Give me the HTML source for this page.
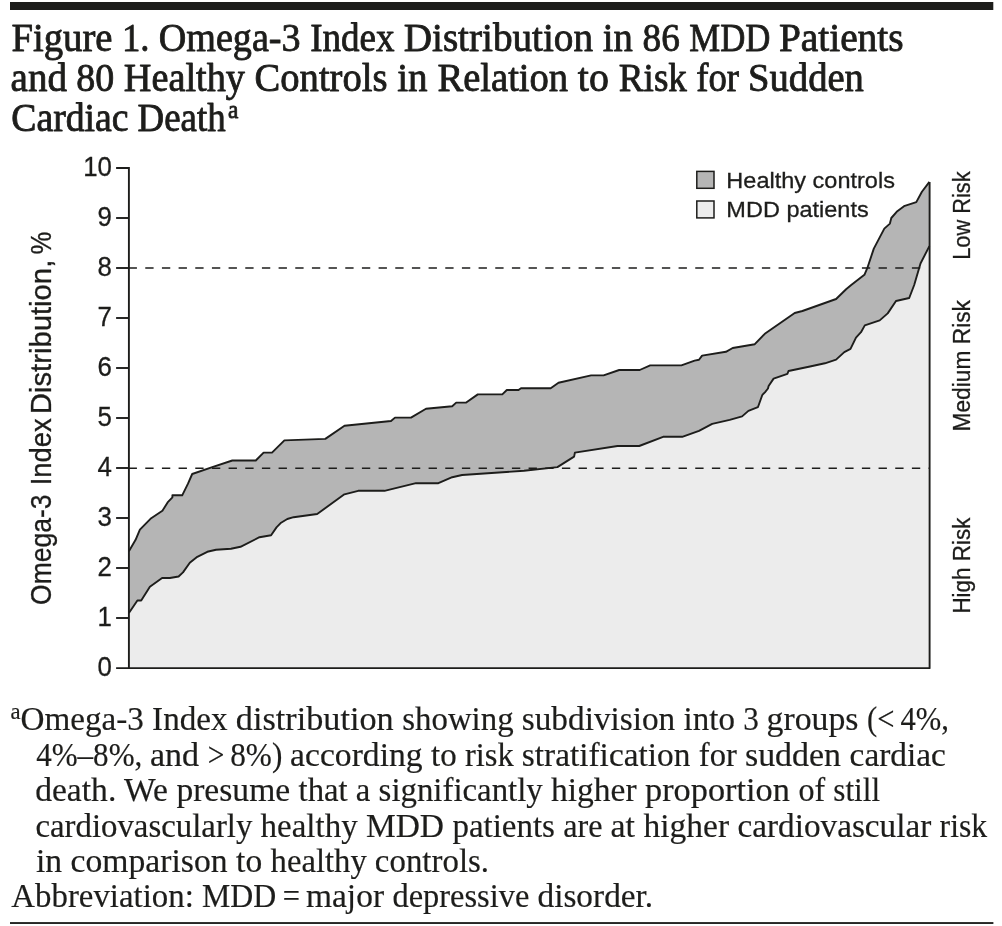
<!DOCTYPE html>
<html lang="en"><head><meta charset="utf-8"><title>Figure 1. Omega-3 Index Distribution</title>
<style>
html,body{margin:0;padding:0;background:#fff}
body{width:1002px;height:926px;overflow:hidden}
svg{display:block}
.ti{font-family:"Liberation Serif","DejaVu Serif",serif;font-weight:normal;fill:#1d1d1b;stroke:#1d1d1b;stroke-width:0.85px;stroke-linejoin:round}
.fn{font-family:"Liberation Serif","DejaVu Serif",serif;fill:#1d1d1b;stroke:#1d1d1b;stroke-width:0.18px}
.sa{font-family:"Liberation Sans","DejaVu Sans",sans-serif;fill:#1d1d1b;stroke:#1d1d1b;stroke-width:0.3px}
</style></head><body>
<svg width="1002" height="926" viewBox="0 0 1002 926">
<rect x="0" y="0" width="1002" height="926" fill="#fff"/>
<rect x="10" y="2" width="983.3" height="8" fill="#1d1d1b"/>
<text class="ti" font-size="40" y="51.3"><tspan x="11.43" textLength="110.76" lengthAdjust="spacingAndGlyphs">Figure </tspan><tspan x="121.94" textLength="36.84" lengthAdjust="spacingAndGlyphs">1. </tspan><tspan x="158.75" textLength="151.40" lengthAdjust="spacingAndGlyphs">Omega-3 </tspan><tspan x="310.17" textLength="93.60" lengthAdjust="spacingAndGlyphs">Index </tspan><tspan x="403.72" textLength="199.08" lengthAdjust="spacingAndGlyphs">Distribution </tspan><tspan x="602.80" textLength="39.73" lengthAdjust="spacingAndGlyphs">in </tspan><tspan x="642.57" textLength="46.60" lengthAdjust="spacingAndGlyphs">86 </tspan><tspan x="689.23" textLength="89.80" lengthAdjust="spacingAndGlyphs">MDD </tspan><tspan x="778.92" textLength="124.64" lengthAdjust="spacingAndGlyphs">Patients</tspan></text>
<text class="ti" font-size="40" y="91.2"><tspan x="10.62" textLength="66.10" lengthAdjust="spacingAndGlyphs">and </tspan><tspan x="76.35" textLength="47.40" lengthAdjust="spacingAndGlyphs">80 </tspan><tspan x="123.74" textLength="130.80" lengthAdjust="spacingAndGlyphs">Healthy </tspan><tspan x="254.53" textLength="142.67" lengthAdjust="spacingAndGlyphs">Controls </tspan><tspan x="397.20" textLength="40.22" lengthAdjust="spacingAndGlyphs">in </tspan><tspan x="437.44" textLength="140.36" lengthAdjust="spacingAndGlyphs">Relation </tspan><tspan x="577.80" textLength="41.00" lengthAdjust="spacingAndGlyphs">to </tspan><tspan x="618.87" textLength="77.30" lengthAdjust="spacingAndGlyphs">Risk </tspan><tspan x="696.18" textLength="51.98" lengthAdjust="spacingAndGlyphs">for </tspan><tspan x="748.07" textLength="115.83" lengthAdjust="spacingAndGlyphs">Sudden</tspan></text>
<text class="ti" font-size="40" y="130.7"><tspan x="11.26" textLength="126.70" lengthAdjust="spacingAndGlyphs">Cardiac </tspan><tspan x="137.58" textLength="88.02" lengthAdjust="spacingAndGlyphs">Death</tspan></text>
<text class="ti" font-size="26" x="228.00" y="117.6" textLength="10.39" lengthAdjust="spacingAndGlyphs">a</text>
<polygon fill="#b5b5b5" points="128.9,551.2 135.6,539.8 139.9,529.6 151.2,518.2 162.4,510.8 167.6,502.4 172.4,497.4 172.4,495.3 182.2,495.3 188.0,483.7 192.2,474.0 212.3,467.2 232.3,460.5 255.8,460.5 263.6,452.6 272.0,452.6 284.4,440.4 325.3,438.9 344.5,425.8 391.0,421.0 395.0,417.6 411.0,417.6 426.0,408.8 452.2,406.2 456.2,402.6 466.2,402.5 477.8,394.4 502.3,394.4 506.8,390.0 518.5,390.0 521.0,388.2 550.7,388.2 558.5,382.8 591.1,375.4 603.6,375.4 619.2,370.0 639.7,370.0 650.2,365.4 681.4,365.4 694.6,360.6 699.0,359.8 702.1,355.6 725.9,351.8 732.7,348.0 754.8,344.2 764.8,333.8 794.7,313.0 802.4,311.0 836.1,299.0 846.1,289.2 851.2,285.0 864.4,274.8 867.6,267.3 873.8,248.6 884.3,228.6 889.9,223.6 891.3,218.0 897.3,211.2 904.0,206.2 916.3,202.1 921.9,191.8 929.4,181.9 929.6,668.1 128.9,668.1"/>
<polygon fill="#ececec" points="128.9,613.0 137.4,600.5 141.2,600.5 149.9,586.8 162.1,578.0 169.9,578.0 178.6,576.5 183.0,572.4 189.8,562.7 197.3,556.8 207.3,551.8 216.0,549.8 231.0,548.8 240.5,546.8 259.5,537.2 271.1,535.2 276.5,527.4 281.1,522.7 287.3,519.0 293.6,517.2 317.2,514.0 344.4,494.3 358.2,490.8 384.5,490.8 416.0,483.2 438.4,483.2 452.2,477.2 462.1,475.0 524.0,470.8 557.4,467.1 574.1,456.6 574.9,452.6 617.5,446.0 639.2,446.0 663.1,436.8 682.2,436.8 699.0,430.8 712.2,423.9 729.7,419.9 742.1,416.4 748.4,410.9 757.9,407.2 762.4,394.8 764.9,392.3 768.0,388.5 768.6,386.0 773.6,378.6 787.4,373.9 788.5,371.0 810.0,366.5 824.9,363.3 836.1,359.6 844.3,352.1 850.5,348.9 856.0,337.6 861.0,332.2 864.8,325.4 879.7,320.4 887.7,313.4 896.0,301.0 909.2,298.0 914.2,285.0 920.5,263.5 929.4,246.1 929.6,668.1 128.9,668.1"/>
<line x1="128.6" y1="268.0" x2="921" y2="268.0" stroke="#1d1d1b" stroke-width="1.5" stroke-dasharray="8.333 8.333"/>
<line x1="128.6" y1="468.2" x2="929.6" y2="468.2" stroke="#1d1d1b" stroke-width="1.5" stroke-dasharray="8.333 8.333"/>
<polyline fill="none" stroke="#1d1d1b" stroke-width="1.9" stroke-linejoin="round" points="128.9,551.2 135.6,539.8 139.9,529.6 151.2,518.2 162.4,510.8 167.6,502.4 172.4,497.4 172.4,495.3 182.2,495.3 188.0,483.7 192.2,474.0 212.3,467.2 232.3,460.5 255.8,460.5 263.6,452.6 272.0,452.6 284.4,440.4 325.3,438.9 344.5,425.8 391.0,421.0 395.0,417.6 411.0,417.6 426.0,408.8 452.2,406.2 456.2,402.6 466.2,402.5 477.8,394.4 502.3,394.4 506.8,390.0 518.5,390.0 521.0,388.2 550.7,388.2 558.5,382.8 591.1,375.4 603.6,375.4 619.2,370.0 639.7,370.0 650.2,365.4 681.4,365.4 694.6,360.6 699.0,359.8 702.1,355.6 725.9,351.8 732.7,348.0 754.8,344.2 764.8,333.8 794.7,313.0 802.4,311.0 836.1,299.0 846.1,289.2 851.2,285.0 864.4,274.8 867.6,267.3 873.8,248.6 884.3,228.6 889.9,223.6 891.3,218.0 897.3,211.2 904.0,206.2 916.3,202.1 921.9,191.8 929.4,181.9"/>
<polyline fill="none" stroke="#1d1d1b" stroke-width="1.9" stroke-linejoin="round" points="128.9,613.0 137.4,600.5 141.2,600.5 149.9,586.8 162.1,578.0 169.9,578.0 178.6,576.5 183.0,572.4 189.8,562.7 197.3,556.8 207.3,551.8 216.0,549.8 231.0,548.8 240.5,546.8 259.5,537.2 271.1,535.2 276.5,527.4 281.1,522.7 287.3,519.0 293.6,517.2 317.2,514.0 344.4,494.3 358.2,490.8 384.5,490.8 416.0,483.2 438.4,483.2 452.2,477.2 462.1,475.0 524.0,470.8 557.4,467.1 574.1,456.6 574.9,452.6 617.5,446.0 639.2,446.0 663.1,436.8 682.2,436.8 699.0,430.8 712.2,423.9 729.7,419.9 742.1,416.4 748.4,410.9 757.9,407.2 762.4,394.8 764.9,392.3 768.0,388.5 768.6,386.0 773.6,378.6 787.4,373.9 788.5,371.0 810.0,366.5 824.9,363.3 836.1,359.6 844.3,352.1 850.5,348.9 856.0,337.6 861.0,332.2 864.8,325.4 879.7,320.4 887.7,313.4 896.0,301.0 909.2,298.0 914.2,285.0 920.5,263.5 929.4,246.1"/>
<path fill="none" stroke="#1d1d1b" stroke-width="1.9" d="M116.1,168 H128.9 V668.1 M116.1,668.1 H930.45 M929.6,668.1 V181.9"/>
<line x1="116.1" y1="618" x2="128.9" y2="618" stroke="#1d1d1b" stroke-width="1.9"/>
<line x1="116.1" y1="568" x2="128.9" y2="568" stroke="#1d1d1b" stroke-width="1.9"/>
<line x1="116.1" y1="518" x2="128.9" y2="518" stroke="#1d1d1b" stroke-width="1.9"/>
<line x1="116.1" y1="468" x2="128.9" y2="468" stroke="#1d1d1b" stroke-width="1.9"/>
<line x1="116.1" y1="418" x2="128.9" y2="418" stroke="#1d1d1b" stroke-width="1.9"/>
<line x1="116.1" y1="368" x2="128.9" y2="368" stroke="#1d1d1b" stroke-width="1.9"/>
<line x1="116.1" y1="318" x2="128.9" y2="318" stroke="#1d1d1b" stroke-width="1.9"/>
<line x1="116.1" y1="268" x2="128.9" y2="268" stroke="#1d1d1b" stroke-width="1.9"/>
<line x1="116.1" y1="218" x2="128.9" y2="218" stroke="#1d1d1b" stroke-width="1.9"/>
<text class="sa" font-size="27.8" text-anchor="end" transform="translate(111.9,676.1) scale(0.93,1)">0</text>
<text class="sa" font-size="27.8" text-anchor="end" transform="translate(111.9,626.1) scale(0.93,1)">1</text>
<text class="sa" font-size="27.8" text-anchor="end" transform="translate(111.9,576.1) scale(0.93,1)">2</text>
<text class="sa" font-size="27.8" text-anchor="end" transform="translate(111.9,526.1) scale(0.93,1)">3</text>
<text class="sa" font-size="27.8" text-anchor="end" transform="translate(111.9,476.1) scale(0.93,1)">4</text>
<text class="sa" font-size="27.8" text-anchor="end" transform="translate(111.9,426.1) scale(0.93,1)">5</text>
<text class="sa" font-size="27.8" text-anchor="end" transform="translate(111.9,376.1) scale(0.93,1)">6</text>
<text class="sa" font-size="27.8" text-anchor="end" transform="translate(111.9,326.1) scale(0.93,1)">7</text>
<text class="sa" font-size="27.8" text-anchor="end" transform="translate(111.9,276.1) scale(0.93,1)">8</text>
<text class="sa" font-size="27.8" text-anchor="end" transform="translate(111.9,226.1) scale(0.93,1)">9</text>
<text class="sa" font-size="27.8" text-anchor="end" transform="translate(111.9,176.1) scale(0.93,1)">10</text>
<g transform="translate(51.3,603.2) rotate(-90)"><text class="sa" font-size="28.6" x="-1.73" y="0" textLength="110.46" lengthAdjust="spacingAndGlyphs">Omega-3</text>
<text class="sa" font-size="28.6" x="117.88" y="0" textLength="67.00" lengthAdjust="spacingAndGlyphs">Index</text>
<text class="sa" font-size="28.6" x="188.95" y="0" textLength="154.54" lengthAdjust="spacingAndGlyphs">Distribution,</text>
<text class="sa" font-size="28.6" x="348.70" y="0" textLength="22.88" lengthAdjust="spacingAndGlyphs">%</text>
</g>
<g transform="translate(970.4,258.9) rotate(-90)"><text class="sa" font-size="24.2" x="-0.90" y="0" textLength="88.38" lengthAdjust="spacingAndGlyphs">Low Risk</text>
</g>
<g transform="translate(970.4,430.6) rotate(-90)"><text class="sa" font-size="24.2" x="-0.94" y="0" textLength="131.49" lengthAdjust="spacingAndGlyphs">Medium Risk</text>
</g>
<g transform="translate(970.4,612.7) rotate(-90)"><text class="sa" font-size="24.2" x="-0.93" y="0" textLength="95.99" lengthAdjust="spacingAndGlyphs">High Risk</text>
</g>
<rect x="696.8" y="171.4" width="17.2" height="16.9" fill="#b5b5b5" stroke="#1d1d1b" stroke-width="1.5"/>
<rect x="696.8" y="201" width="17.2" height="16.9" fill="#ececec" stroke="#1d1d1b" stroke-width="1.5"/>
<text class="sa" font-size="22.6" x="726.36" y="188.2" textLength="168.55" lengthAdjust="spacingAndGlyphs">Healthy controls</text>
<text class="sa" font-size="22.6" x="726.36" y="217.3" textLength="142.35" lengthAdjust="spacingAndGlyphs">MDD patients</text>
<text class="fn" font-size="32.7" y="730.1"><tspan x="20.49" textLength="215.40" lengthAdjust="spacingAndGlyphs">Omega-3 Index </tspan><tspan x="235.85" textLength="166.40" lengthAdjust="spacingAndGlyphs">distribution </tspan><tspan x="402.30" textLength="119.50" lengthAdjust="spacingAndGlyphs">showing </tspan><tspan x="521.78" textLength="161.82" lengthAdjust="spacingAndGlyphs">subdivision </tspan><tspan x="683.60" textLength="59.59" lengthAdjust="spacingAndGlyphs">into </tspan><tspan x="743.25" textLength="23.40" lengthAdjust="spacingAndGlyphs">3 </tspan><tspan x="766.57" textLength="100.40" lengthAdjust="spacingAndGlyphs">groups </tspan><tspan x="867.06" textLength="81.93" lengthAdjust="spacingAndGlyphs">(&lt; 4%,</tspan></text>
<text class="fn" font-size="32.7" y="765.6"><tspan x="36.20" textLength="113.85" lengthAdjust="spacingAndGlyphs">4%–8%, </tspan><tspan x="149.96" textLength="57.70" lengthAdjust="spacingAndGlyphs">and </tspan><tspan x="207.80" textLength="22.50" lengthAdjust="spacingAndGlyphs">&gt; </tspan><tspan x="230.24" textLength="59.90" lengthAdjust="spacingAndGlyphs">8%) </tspan><tspan x="290.07" textLength="140.93" lengthAdjust="spacingAndGlyphs">according </tspan><tspan x="431.00" textLength="33.90" lengthAdjust="spacingAndGlyphs">to </tspan><tspan x="464.90" textLength="56.91" lengthAdjust="spacingAndGlyphs">risk </tspan><tspan x="521.78" textLength="177.00" lengthAdjust="spacingAndGlyphs">stratification </tspan><tspan x="698.80" textLength="46.20" lengthAdjust="spacingAndGlyphs">for </tspan><tspan x="744.96" textLength="104.60" lengthAdjust="spacingAndGlyphs">sudden </tspan><tspan x="849.58" textLength="96.34" lengthAdjust="spacingAndGlyphs">cardiac</tspan></text>
<text class="fn" font-size="32.7" y="801.1"><tspan x="35.17" textLength="263.43" lengthAdjust="spacingAndGlyphs">death. We presume </tspan><tspan x="298.60" textLength="80.00" lengthAdjust="spacingAndGlyphs">that a </tspan><tspan x="378.60" textLength="172.40" lengthAdjust="spacingAndGlyphs">significantly </tspan><tspan x="551.00" textLength="94.00" lengthAdjust="spacingAndGlyphs">higher </tspan><tspan x="645.00" textLength="153.45" lengthAdjust="spacingAndGlyphs">proportion </tspan><tspan x="798.52" textLength="34.80" lengthAdjust="spacingAndGlyphs">of </tspan><tspan x="833.35" textLength="46.73" lengthAdjust="spacingAndGlyphs">still</tspan></text>
<text class="fn" font-size="32.7" y="836.5"><tspan x="35.40" textLength="225.20" lengthAdjust="spacingAndGlyphs">cardiovascularly </tspan><tspan x="260.60" textLength="105.30" lengthAdjust="spacingAndGlyphs">healthy </tspan><tspan x="365.90" textLength="86.50" lengthAdjust="spacingAndGlyphs">MDD </tspan><tspan x="452.40" textLength="110.79" lengthAdjust="spacingAndGlyphs">patients </tspan><tspan x="563.21" textLength="47.40" lengthAdjust="spacingAndGlyphs">are </tspan><tspan x="610.56" textLength="32.94" lengthAdjust="spacingAndGlyphs">at </tspan><tspan x="643.50" textLength="93.97" lengthAdjust="spacingAndGlyphs">higher </tspan><tspan x="737.48" textLength="202.12" lengthAdjust="spacingAndGlyphs">cardiovascular </tspan><tspan x="939.60" textLength="47.56" lengthAdjust="spacingAndGlyphs">risk</tspan></text>
<text class="fn" font-size="32.7" y="871.9"><tspan x="35.90" textLength="200.20" lengthAdjust="spacingAndGlyphs">in comparison </tspan><tspan x="236.10" textLength="34.50" lengthAdjust="spacingAndGlyphs">to </tspan><tspan x="270.60" textLength="104.30" lengthAdjust="spacingAndGlyphs">healthy </tspan><tspan x="374.89" textLength="114.19" lengthAdjust="spacingAndGlyphs">controls.</tspan></text>
<text class="fn" font-size="32.7" y="907.2"><tspan x="11.30" textLength="190.70" lengthAdjust="spacingAndGlyphs">Abbreviation: </tspan><tspan x="202.00" textLength="80.63" lengthAdjust="spacingAndGlyphs">MDD </tspan><tspan x="282.67" textLength="23.33" lengthAdjust="spacingAndGlyphs">= </tspan><tspan x="306.00" textLength="86.38" lengthAdjust="spacingAndGlyphs">major </tspan><tspan x="392.41" textLength="145.10" lengthAdjust="spacingAndGlyphs">depressive </tspan><tspan x="537.48" textLength="115.71" lengthAdjust="spacingAndGlyphs">disorder.</tspan></text>
<text class="fn" font-size="22.5" x="10.4" y="718.5" textLength="10.1" lengthAdjust="spacingAndGlyphs">a</text>
<rect x="10" y="922.1" width="983.4" height="1.85" fill="#1d1d1b"/>
</svg>
</body></html>
